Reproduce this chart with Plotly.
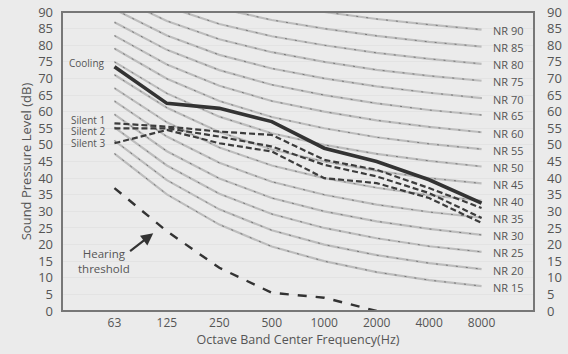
import plotly.graph_objects as go

freq_labels = ["63", "125", "250", "500", "1000", "2000", "4000", "8000"]
x_idx = [0, 1, 2, 3, 4, 5, 6, 7]

nr_names = ["NR 15", "NR 20", "NR 25", "NR 30", "NR 35", "NR 40", "NR 45", "NR 50",
            "NR 55", "NR 60", "NR 65", "NR 70", "NR 75", "NR 80", "NR 85", "NR 90"]
nr_values = [
    [47.4, 35.1, 26.0, 19.4, 15.0, 11.7, 9.3, 7.5],
    [51.3, 39.4, 30.6, 24.3, 20.0, 16.8, 14.4, 12.6],
    [55.3, 43.8, 35.3, 29.2, 25.0, 21.9, 19.5, 17.8],
    [59.2, 48.1, 39.9, 34.0, 30.0, 27.0, 24.7, 22.9],
    [63.2, 52.5, 44.6, 38.9, 35.0, 32.0, 29.8, 28.1],
    [67.1, 56.8, 49.2, 43.8, 40.0, 37.1, 34.9, 33.2],
    [71.1, 61.2, 53.9, 48.6, 45.0, 42.2, 40.0, 38.4],
    [75.0, 65.5, 58.5, 53.5, 50.0, 47.3, 45.2, 43.5],
    [79.0, 69.9, 63.2, 58.4, 55.0, 52.3, 50.3, 48.7],
    [82.9, 74.2, 67.8, 63.2, 60.0, 57.4, 55.4, 53.8],
    [86.9, 78.6, 72.5, 68.1, 65.0, 62.5, 60.5, 59.0],
    [90.8, 82.9, 77.1, 73.0, 70.0, 67.6, 65.7, 64.1],
    [94.8, 87.3, 81.8, 77.9, 75.0, 72.6, 70.8, 69.3],
    [98.7, 91.6, 86.4, 82.7, 80.0, 77.7, 75.9, 74.4],
    [102.7, 96.0, 91.1, 87.6, 85.0, 82.8, 81.0, 79.6],
    [106.6, 100.3, 95.7, 92.5, 90.0, 87.9, 86.2, 84.7],
]

cooling = [73.5, 62.5, 61.0, 57.0, 49.0, 45.0, 39.5, 32.5]
silent1 = [56.5, 55.5, 54.0, 53.0, 45.5, 42.5, 37.0, 31.0]
silent2 = [55.0, 55.0, 52.5, 49.5, 44.0, 40.5, 35.5, 28.0]
silent3 = [50.5, 54.5, 50.5, 48.0, 40.0, 38.5, 34.0, 26.5]
threshold_x = [0, 1, 2, 3, 4, 5]
threshold = [37.0, 24.0, 13.0, 5.5, 4.0, 0.0]

y_ticks = list(range(0, 95, 5))

FONT = "Open Sans"
TXT = "#555555"
BG = "#ebebeb"
FRAME = "#777777"

fig = go.Figure()

for name, vals in zip(nr_names, nr_values):
    fig.add_trace(go.Scatter(x=x_idx, y=vals, mode="lines",
                             line=dict(color="#bdbdbd", width=2.2),
                             showlegend=False, hoverinfo="skip"))
    fig.add_trace(go.Scatter(x=x_idx, y=vals, mode="lines",
                             line=dict(color="#666666", width=0.8, dash="2px,8px"),
                             showlegend=False, hoverinfo="skip"))
    fig.add_annotation(x=x_idx[-1], y=vals[-1], text=name, showarrow=False,
                       xanchor="left", yanchor="middle", xshift=9, yshift=-1,
                       font=dict(family=FONT, size=11, color=TXT))

fig.add_trace(go.Scatter(x=threshold_x, y=threshold, mode="lines",
                         line=dict(color="#333333", width=2.4, dash="9px,9px"),
                         showlegend=False))
for s in (silent3, silent2, silent1):
    fig.add_trace(go.Scatter(x=x_idx, y=s, mode="lines",
                             line=dict(color="#3c3c3c", width=2.2, dash="6px,3px"),
                             showlegend=False))
fig.add_trace(go.Scatter(x=x_idx, y=cooling, mode="lines",
                         line=dict(color="#333333", width=3.6),
                         showlegend=False))

series_labels = [("Cooling", cooling[0] + 1.0), ("Silent 1", silent1[0] + 1.0),
                 ("Silent 2", silent2[0] - 0.7), ("Silent 3", silent3[0])]
for txt, yy in series_labels:
    fig.add_annotation(x=-0.14, y=yy, text=txt, showarrow=False,
                       xanchor="right", yanchor="middle",
                       font=dict(family=FONT, size=10, color=TXT))

fig.add_annotation(x=0.74, y=23.4, ax=0.27, ay=17.7, axref="x", ayref="y",
                   text="", showarrow=True, arrowhead=2, arrowsize=1.1,
                   arrowwidth=2.2, arrowcolor="#333333")
fig.add_annotation(x=-0.2, y=15, text="Hearing<br>threshold", showarrow=False,
                   xanchor="center", yanchor="middle",
                   font=dict(family=FONT, size=11.5, color=TXT))

fig.add_shape(type="rect", xref="paper", yref="paper", x0=0, y0=0, x1=1, y1=1,
              line=dict(color=FRAME, width=2), layer="above")

fig.add_trace(go.Scatter(x=[None], y=[None], yaxis="y2", showlegend=False))

fig.update_layout(
    width=568, height=354,
    margin=dict(l=62, r=34, t=12, b=43, autoexpand=False),
    paper_bgcolor=BG, plot_bgcolor=BG,
    showlegend=False,
    font=dict(family=FONT, color=TXT),
    xaxis=dict(range=[-1, 8], tickmode="array", tickvals=x_idx, ticktext=freq_labels,
               showgrid=False, zeroline=False, showline=False,
               ticks="", automargin=False, ticklabelstandoff=3,
               tickfont=dict(family=FONT, size=12, color=TXT),
               title=dict(text="Octave Band Center Frequency(Hz)", standoff=5,
                          font=dict(family=FONT, size=12.5, color=TXT))),
    yaxis=dict(range=[0, 90], tickmode="array", tickvals=y_ticks,
               showgrid=True, gridcolor="#e3e3e3", gridwidth=1,
               zeroline=False, showline=False, automargin=False, ticks="",
               ticklabelstandoff=8,
               tickfont=dict(family=FONT, size=13, color=TXT),
               title=dict(text="Sound Pressure Level (dB)", standoff=3,
                          font=dict(family=FONT, size=13, color=TXT))),
    yaxis2=dict(range=[0, 90], tickmode="array", tickvals=y_ticks, overlaying="y",
                side="right", showgrid=False, zeroline=False, showline=False,
                ticks="", automargin=False, ticklabelstandoff=12,
                tickfont=dict(family=FONT, size=13, color=TXT)),
)

fig.write_html("out.html", config={"displayModeBar": False},
               post_script="document.body.style.margin='0';"
                           "document.body.style.overflow='hidden';"
                           "document.body.style.background='#ebebeb';")
